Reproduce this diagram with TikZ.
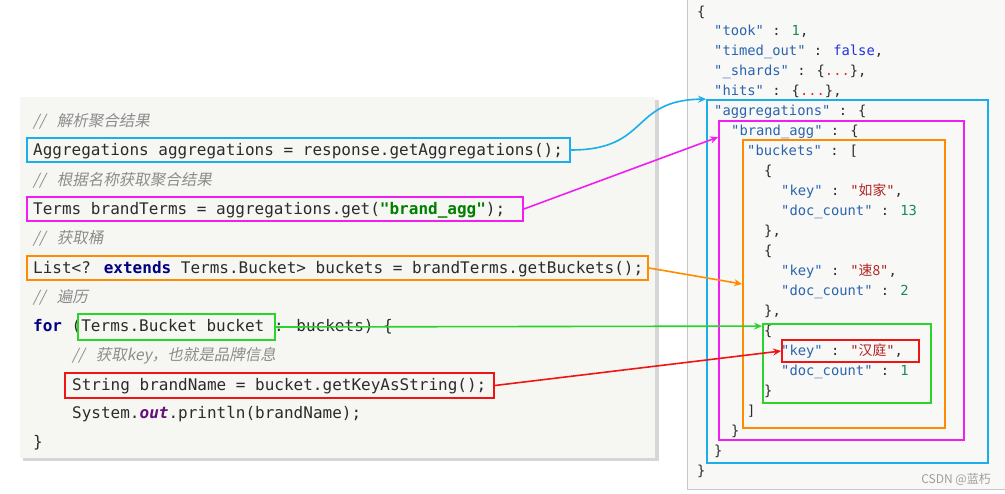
\documentclass[tikz,border=0pt]{standalone}
\usepackage{fontspec}
\usetikzlibrary{arrows.meta}
\newfontfamily\code{DejaVu Sans Mono}
\newfontfamily\cjk{Noto Sans CJK SC}
\newfontfamily\cjkit{Noto Sans CJK SC}[FakeSlant=0.2]
\definecolor{txtc}{HTML}{2B2B2B}
\definecolor{cmtc}{HTML}{8C8C8C}
\definecolor{kwc}{HTML}{000080}
\definecolor{strc}{HTML}{008000}
\definecolor{outc}{HTML}{660E7A}
\definecolor{jkey}{HTML}{2A64B0}
\definecolor{jnum}{HTML}{178A56}
\definecolor{jbool}{HTML}{2233DD}
\definecolor{jstr}{HTML}{B22222}
\definecolor{jdot}{HTML}{E03030}
\definecolor{cblue}{HTML}{1AAEEA}
\definecolor{cmag}{HTML}{F01EF0}
\definecolor{corange}{HTML}{FF8C00}
\definecolor{cgreen}{HTML}{2BD42B}
\definecolor{cred}{HTML}{F01515}
\definecolor{panelbg}{HTML}{F6F7F3}
\definecolor{rpanelbg}{HTML}{F8F8F6}
\newcommand{\K}[1]{{\color{jkey}"#1"}}
\newcommand{\N}[1]{{\color{jnum}#1}}
\newcommand{\Sx}[1]{{\color{jstr}"{\cjk #1}"}}
\newcommand{\Cs}{//\hspace{0.75em}}
\tikzset{
  ctxt/.style={anchor=base west, inner sep=0pt, text=txtc, font=\fontsize{16}{19}\selectfont\code},
  cmt/.style={anchor=base west, inner sep=0pt, text=cmtc, font=\fontsize{15.5}{19}\selectfont\cjkit},
  jtxt/.style={anchor=base west, inner sep=0pt, text=txtc, font=\fontsize{13.8}{17}\selectfont\code},
  hbox/.style={draw=#1, line width=1.8pt, inner sep=0pt, fill=none},
  conn/.style={draw=#1, line width=1.6pt, -{Stealth[length=8pt,width=7pt]}},
}
\begin{document}
\begin{tikzpicture}[x=1pt,y=-1pt]
\useasboundingbox (0,0) rectangle (1005,494);
\fill[white] (0,0) rectangle (1005,494);
% left panel
\fill[black!16] (23,100) rectangle (659,461);
\fill[panelbg] (20,97) rectangle (655,458);
% right panel
\fill[rpanelbg] (687,-2) rectangle (1007,489);
\draw[black!22, line width=1pt] (687,-2) -- (687,489) -- (1007,489);

% left code
\node[cmt] (c1) at (33,127) {\Cs 解析聚合结果};
\node[ctxt] (l1) at (33,156) {Aggregations aggregations = response.getAggregations();};
\node[cmt] (c2) at (33,186) {\Cs 根据名称获取聚合结果};
\node[ctxt] (l2) at (33,215) {Terms brandTerms = aggregations.get({\bfseries\color{strc}"brand\_agg"});};
\node[cmt] (c3) at (33,244) {\Cs 获取桶};
\node[ctxt] (l3) at (33,274) {List<? {\bfseries\color{kwc}extends} Terms.Bucket> buckets = brandTerms.getBuckets();};
\node[cmt] (c4) at (33,303) {\Cs 遍历};
\node[ctxt] (l4) at (33,332) {{\bfseries\color{kwc}for} (Terms.Bucket bucket : buckets) \{};
\node[cmt] (c5) at (72,361) {\Cs 获取key，也就是品牌信息};
\node[ctxt] (l5) at (72,391) {String brandName = bucket.getKeyAsString();};
\node[ctxt] (l6) at (72,419) {System.{\bfseries\itshape\color{outc}out}.println(brandName);};
\node[ctxt] (l7) at (33,448) {\}};

% right json
\node[jtxt] (j1) at (697,16.5) {\{};
\node[jtxt] (j2) at (714,35.5) {\K{took} : \N{1},};
\node[jtxt] (j3) at (714,55.5) {\K{timed\_out} : {\color{jbool}false},};
\node[jtxt] (j4) at (714,75.5) {\K{\_shards} : \{{\color{jdot}...}\},};
\node[jtxt] (j5) at (714,95.5) {\K{hits} : \{{\color{jdot}...}\},};
\node[jtxt] (j6) at (714,115.5) {\K{aggregations} : \{};
\node[jtxt] (j7) at (731,135.5) {\K{brand\_agg} : \{};
\node[jtxt] (j8) at (747,155.5) {\K{buckets} : [};
\node[jtxt] (j9) at (764,175.5) {\{};
\node[jtxt] (j10) at (781,195.5) {\K{key} : \Sx{如家},};
\node[jtxt] (j11) at (781,215.5) {\K{doc\_count} : \N{13}};
\node[jtxt] (j12) at (764,235.5) {\},};
\node[jtxt] (j13) at (764,255.5) {\{};
\node[jtxt] (j14) at (781,275.5) {\K{key} : \Sx{速8},};
\node[jtxt] (j15) at (781,295.5) {\K{doc\_count} : \N{2}};
\node[jtxt] (j16) at (764,315.5) {\},};
\node[jtxt] (j17) at (764,335.5) {\{};
\node[jtxt] (j18) at (781,355.5) {\K{key} : \Sx{汉庭},};
\node[jtxt] (j19) at (781,375.5) {\K{doc\_count} : \N{1}};
\node[jtxt] (j20) at (764,395.5) {\}};
\node[jtxt] (j21) at (747,415.5) {]};
\node[jtxt] (j22) at (731,435.5) {\}};
\node[jtxt] (j23) at (714,455.5) {\}};
\node[jtxt] (j24) at (697,475.5) {\}};

\node[anchor=base east, inner sep=0pt, text=black!38, font=\fontsize{12}{14}\selectfont\cjk] (wm) at (991,484) {CSDN @蓝朽};

% highlight boxes, left
\node[hbox=cblue, minimum width=543, minimum height=24] (bA) at (298.5,150) {};
\node[hbox=cmag, minimum width=496, minimum height=24] (bB) at (275,209) {};
\node[hbox=corange, minimum width=621, minimum height=24] (bC) at (337.5,268) {};
\node[hbox=cgreen, minimum width=197, minimum height=26] (bD) at (176.5,327) {};
\node[hbox=cred, minimum width=429, minimum height=25] (bE) at (279.5,385.5) {};

% highlight boxes, right
\node[hbox=cblue, minimum width=281, minimum height=363] (jA) at (847.5,281.5) {};
\node[hbox=cmag, minimum width=245, minimum height=319] (jB) at (841.5,280.5) {};
\node[hbox=corange, minimum width=202, minimum height=288] (jC) at (844,284) {};
\node[hbox=cgreen, minimum width=168, minimum height=79] (jD) at (847,363.5) {};
\node[hbox=cred, minimum width=137, minimum height=22] (jE) at (850.5,351) {};

% connectors
\draw[conn=cblue] (bA.east) .. controls (650,150) and (630,100) .. (jA.north west);
\draw[conn=cmag] (bB.east) -- ([yshift=-17pt]jB.north west);
\draw[conn=corange] (bC.east) -- (jC.west);
\draw[conn=cgreen] (bD.east) -- ([yshift=-3pt]jD.north west);
\draw[conn=cred] (bE.east) -- (jE.west);
\end{tikzpicture}
\end{document}
